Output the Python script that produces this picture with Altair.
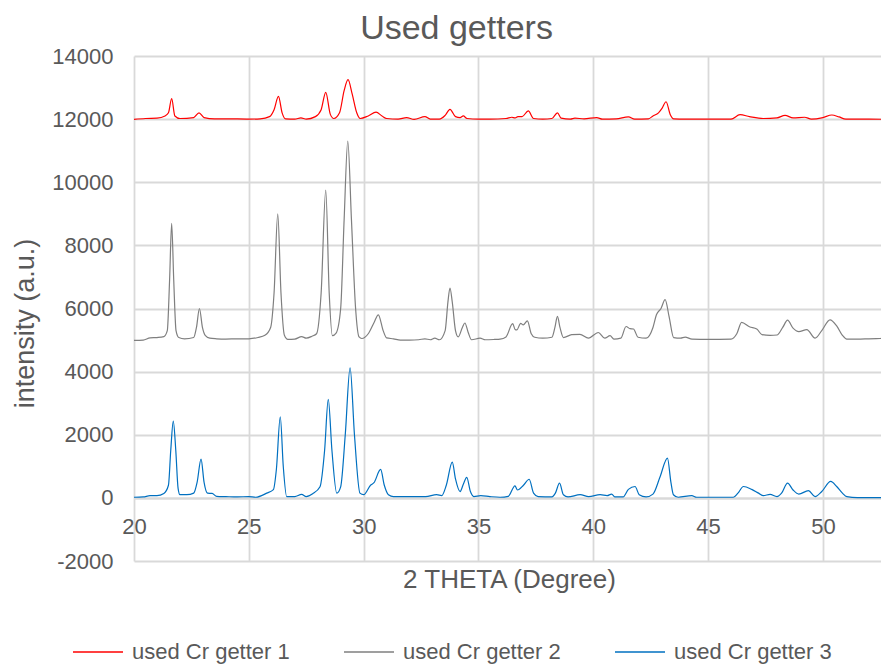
import altair as alt
import pandas as pd

FONT = "Liberation Sans"
TXT = "#595959"
GRID = "#d9d9d9"

names = ["used Cr getter 1", "used Cr getter 2", "used Cr getter 3"]
colors = ["#ff0000", "#7f7f7f", "#0070c0"]
x_ticks = [20, 25, 30, 35, 40, 45, 50]
y_ticks = [-2000, 0, 2000, 4000, 6000, 8000, 10000, 12000, 14000]

# used Cr getter 1 (red)
x1 = [20.0, 20.5, 21.0, 21.35, 21.5, 21.64, 21.78, 22.0, 22.6, 22.83, 23.05, 23.5, 24.0, 25.0,
      25.5, 25.9, 26.1, 26.29, 26.45, 26.6, 27.0, 27.27, 27.5, 27.9, 28.15, 28.35, 28.55, 28.7,
      28.95, 29.15, 29.32, 29.5, 29.7, 29.85, 30.2, 30.54, 30.8, 31.0, 31.5, 31.87, 32.2, 32.67,
      32.9, 33.3, 33.55, 33.76, 34.0, 34.2, 34.34, 34.5, 35.0, 35.5, 36.2, 36.45, 36.6, 36.72,
      36.9, 37.17, 37.4, 37.8, 38.2, 38.44, 38.6, 39.0, 39.2, 39.6, 40.15, 40.4, 41.0, 41.53,
      41.8, 42.4, 42.6, 42.84, 43.0, 43.17, 43.35, 43.5, 44.0, 45.0, 46.0, 46.39, 46.8, 47.4,
      48.0, 48.35, 48.7, 49.2, 49.5, 50.0, 50.39, 50.7, 51.0, 52.0, 52.9]
y1 = [11990, 12020, 12030, 12100, 12200, 12650, 12100, 12020, 12050, 12200, 12050, 12010, 12010, 12000,
      12010, 12080, 12300, 12720, 12200, 12010, 12000, 12040, 12000, 12080, 12300, 12850, 12150, 12020,
      12200, 12900, 13250, 12800, 12200, 12020, 12100, 12220, 12100, 12020, 12000, 12050, 11990, 12080,
      12000, 12000, 12120, 12310, 12080, 12050, 12100, 12020, 12000, 12000, 12020, 12060, 12040, 12080,
      12080, 12260, 12020, 12000, 12020, 12200, 12030, 12000, 12030, 12010, 12050, 12000, 12010, 12070,
      12000, 12010, 12100, 12200, 12350, 12550, 12150, 12010, 12000, 12000, 12000, 12140, 12080, 12020,
      12040, 12120, 12040, 12060, 12000, 12050, 12130, 12070, 12000, 12000, 11990]

# used Cr getter 2 (grey)
x2 = [20.0, 20.4, 20.7, 21.0, 21.3, 21.45, 21.55, 21.64, 21.73, 21.83, 21.95, 22.2, 22.6, 22.72,
      22.85, 22.98, 23.1, 23.3, 23.6, 24.0, 24.5, 25.0, 25.4, 25.7, 25.95, 26.1, 26.26, 26.4,
      26.55, 26.7, 27.0, 27.3, 27.5, 27.75, 27.95, 28.15, 28.35, 28.5, 28.64, 28.8, 29.0, 29.15,
      29.31, 29.47, 29.65, 29.8, 29.92, 30.2, 30.45, 30.64, 30.85, 31.0, 31.3, 31.6, 32.0, 32.4,
      32.67, 32.9, 33.1, 33.3, 33.55, 33.67, 33.76, 33.86, 34.0, 34.12, 34.3, 34.41, 34.55, 34.7,
      35.07, 35.3, 35.7, 35.94, 36.2, 36.49, 36.6, 36.67, 36.84, 36.95, 37.13, 37.3, 37.45, 37.8,
      38.2, 38.33, 38.44, 38.55, 38.7, 39.06, 39.42, 39.79, 40.22, 40.5, 40.73, 40.9, 41.2, 41.43,
      41.6, 41.75, 41.95, 42.3, 42.6, 42.75, 42.95, 43.13, 43.3, 43.5, 43.8, 44.0, 44.3, 45.0,
      46.0, 46.25, 46.46, 46.8, 47.12, 47.35, 47.7, 48.0, 48.25, 48.46, 48.7, 48.95, 49.3, 49.66,
      49.95, 50.31, 50.6, 50.85, 51.04, 51.5, 52.0, 52.5, 52.9]
y2 = [4990, 5000, 5070, 5080, 5110, 5300, 6900, 8700, 6900, 5300, 5080, 5040, 5080, 5400,
      6000, 5400, 5150, 5060, 5040, 5030, 5040, 5040, 5080, 5150, 5400, 6500, 9000, 6500,
      5150, 5020, 5030, 5110, 5060, 5120, 5200, 6500, 9750, 6500, 5140, 5220, 6000, 8800,
      11300, 8800, 6000, 5100, 5050, 5200, 5550, 5800, 5300, 5070, 5040, 5000, 5000, 5010,
      5040, 5010, 5060, 5010, 5300, 6200, 6650, 6200, 5300, 5100, 5400, 5540, 5250, 5010,
      5060, 5010, 5020, 5030, 5100, 5520, 5330, 5320, 5530, 5480, 5610, 5200, 5090, 5060,
      5090, 5400, 5750, 5400, 5080, 5170, 5180, 5060, 5240, 5060, 5140, 5030, 5060, 5430,
      5360, 5350, 5090, 5060, 5400, 5800, 6000, 6280, 5750, 5080, 5060, 5090, 5030, 5020,
      5030, 5200, 5560, 5420, 5350, 5170, 5150, 5160, 5400, 5630, 5380, 5270, 5330, 5060,
      5300, 5640, 5450, 5150, 5030, 5030, 5040, 5050, 5060]

# used Cr getter 3 (blue)
x3 = [20.0, 20.4, 20.7, 21.0, 21.3, 21.5, 21.6, 21.71, 21.82, 21.92, 22.0, 22.3, 22.6, 22.75,
      22.92, 23.05, 23.2, 23.4, 23.6, 24.0, 24.5, 25.0, 25.3, 25.78, 26.07, 26.2, 26.37, 26.5,
      26.65, 27.0, 27.3, 27.5, 27.78, 28.1, 28.3, 28.46, 28.62, 28.83, 29.0, 29.2, 29.41, 29.6,
      29.84, 30.0, 30.3, 30.45, 30.74, 30.9, 31.08, 31.3, 32.0, 32.7, 33.18, 33.4, 33.6, 33.86,
      34.0, 34.2, 34.35, 34.49, 34.65, 34.8, 35.1, 35.5, 35.94, 36.3, 36.59, 36.7, 36.96, 37.21,
      37.4, 37.6, 38.2, 38.35, 38.53, 38.7, 38.9, 39.43, 39.8, 40.3, 40.6, 40.8, 40.95, 41.3,
      41.53, 41.82, 42.0, 42.3, 42.6, 42.91, 43.23, 43.38, 43.49, 43.7, 44.29, 44.5, 46.1, 46.3,
      46.54, 46.9, 47.2, 47.41, 47.7, 48.0, 48.2, 48.46, 48.7, 48.95, 49.37, 49.66, 49.95, 50.34,
      50.6, 50.85, 51.04, 51.5, 52.9]
y3 = [20, 30, 70, 70, 140, 400, 1500, 2430, 1500, 300, 100, 100, 150, 500,
      1230, 500, 150, 140, 50, 40, 30, 40, 20, 150, 260, 900, 2570, 1000,
      40, 40, 110, 40, 130, 350, 1500, 3120, 1500, 150, 350, 2000, 4120, 2000,
      150, 100, 400, 480, 900, 400, 100, 40, 40, 40, 100, 70, 400, 1130,
      600, 200, 450, 650, 200, 40, 70, 40, 20, 50, 380, 250, 400, 590,
      150, 40, 30, 150, 465, 100, 30, 100, 40, 100, 70, 120, 30, 30,
      270, 360, 100, 30, 120, 670, 1260, 500, 100, 20, 70, 20, 20, 150,
      360, 270, 150, 70, 110, 40, 150, 470, 250, 120, 230, 40, 200, 520,
      360, 150, 40, 10, 10]

rows = []
for name, xs, ys in zip(names, [x1, x2, x3], [y1, y2, y3]):
    for a, b in zip(xs, ys):
        rows.append({"series": name, "theta": a, "intensity": b})
df = pd.DataFrame(rows)

chart = alt.Chart(df).mark_line(strokeWidth=1.2, interpolate="monotone", clip=True).encode(
    x=alt.X("theta:Q",
            scale=alt.Scale(domain=[20, 52.53], nice=False, zero=False),
            axis=alt.Axis(values=x_ticks, title="2 THETA (Degree)", offset=-63, format="d",
                          labelFontSize=22, labelColor=TXT, labelFont=FONT, labelPadding=18,
                          labelFlush=False, labelOverlap=False,
                          ticks=False, domainColor=GRID, domainWidth=2,
                          gridColor=GRID, gridWidth=1.8,
                          titleFontSize=26, titleFont=FONT, titleFontWeight="normal", titleColor=TXT,
                          titleX=375, titleY=81, titleBaseline="middle")),
    y=alt.Y("intensity:Q",
            scale=alt.Scale(domain=[-2000, 14000], nice=False),
            axis=alt.Axis(values=y_ticks, title="intensity (a.u.)",
                          labelExpr="datum.value < 0 ? '-' + abs(datum.value) : '' + datum.value",
                          labelFontSize=22, labelColor=TXT, labelFont=FONT, labelPadding=21,
                          ticks=False, domain=False, gridColor=GRID, gridWidth=1.8,
                          titleFontSize=27, titleFont=FONT, titleFontWeight="normal", titleColor=TXT,
                          titleX=-109, titleY=267, titleAngle=270, titleAlign="center",
                          titleBaseline="middle")),
    color=alt.Color("series:N", title=None,
                    scale=alt.Scale(domain=names, range=colors),
                    legend=alt.Legend(orient="none", legendX=-62, legendY=570,
                                      direction="horizontal", columns=3,
                                      symbolType="stroke", symbolSize=2500, symbolStrokeWidth=1.5,
                                      labelFontSize=22, labelFont=FONT, labelColor=TXT,
                                      labelOffset=8, labelLimit=300, columnPadding=51, padding=0)),
).properties(
    width=747,
    height=505,
    autosize=alt.AutoSizeParams(type="none"),
    padding={"left": 126, "top": 48, "right": 0, "bottom": 104},
    title=alt.TitleParams("Used getters", fontSize=34, font=FONT, color=TXT,
                          fontWeight="normal", anchor="middle", dx=-51, dy=11, offset=10),
).configure_view(strokeWidth=0)

chart.save("out.html", embed_options={"renderer": "svg", "actions": False})
